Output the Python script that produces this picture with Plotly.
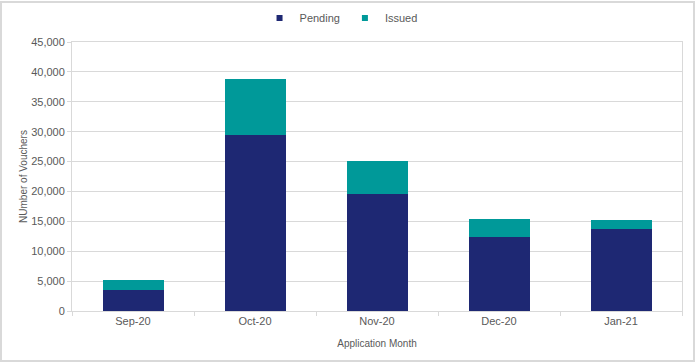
import plotly.graph_objects as go

months = ["Sep-20", "Oct-20", "Nov-20", "Dec-20", "Jan-21"]
pending = [3500, 29450, 19600, 12450, 13650]
issued = [1700, 9400, 5550, 2950, 1600]

PENDING_C = "#1E2873"
ISSUED_C = "#009999"

fig = go.Figure()
fig.add_trace(go.Bar(name="Pending", x=months, y=pending, marker_color=PENDING_C,
                     marker_line_width=0, showlegend=False))
fig.add_trace(go.Bar(name="Issued", x=months, y=issued, marker_color=ISSUED_C,
                     marker_line_width=0, showlegend=False))
# legend entries with small square symbols
for nm, c in [("Pending", PENDING_C), ("Issued", ISSUED_C)]:
    fig.add_trace(go.Scatter(name=nm, x=[None], y=[None], mode="markers",
                             marker=dict(symbol="square", size=6, color=c)))

L, R, T, B = 72, 14, 42, 53
W, H = 696, 364
pw, ph = W - L - R, H - T - B

fig.update_layout(
    barmode="stack",
    bargap=0.5,
    width=W, height=H,
    margin=dict(l=L, r=R, t=T, b=B, autoexpand=False),
    paper_bgcolor="white",
    plot_bgcolor="white",
    font=dict(family="Liberation Sans, Arial, sans-serif", color="#595959", size=11),
    legend=dict(orientation="h", x=0.49, xanchor="center", xref="container",
                y=1 - 18 / H, yanchor="middle", yref="container",
                font=dict(size=11), itemwidth=30, bgcolor="rgba(0,0,0,0)",
                traceorder="normal", tracegroupgap=0),
    showlegend=True,
)
fig.update_xaxes(
    title=dict(text="Application Month", font=dict(size=10), standoff=13),
    showline=True, linecolor="#D9D9D9", mirror=True,
    ticks="outside", tickson="boundaries", ticklen=4, tickcolor="#D9D9D9",
    tickfont=dict(size=11),
)
fig.update_yaxes(
    title=dict(text="NUmber of Vouchers", font=dict(size=10), standoff=1),
    range=[0, 45000], dtick=5000, tickformat=",",
    showgrid=True, gridcolor="#D9D9D9",
    showline=True, linecolor="#D9D9D9", mirror=True,
    ticks="outside", ticklen=4, tickcolor="#D9D9D9",
    tickfont=dict(size=11),
)
fig.add_shape(type="rect", xref="paper", yref="paper",
              x0=(1 - L) / pw, x1=(W - 2 - L) / pw,
              y0=-(H - 3 - (H - B)) / ph, y1=(H - B - 2) / ph,
              line=dict(color="#D9D9D9", width=2), layer="below")
fig.write_html("out.html", config={"displayModeBar": False},
               post_script="document.body.style.margin='0';document.body.style.overflow='hidden';")
